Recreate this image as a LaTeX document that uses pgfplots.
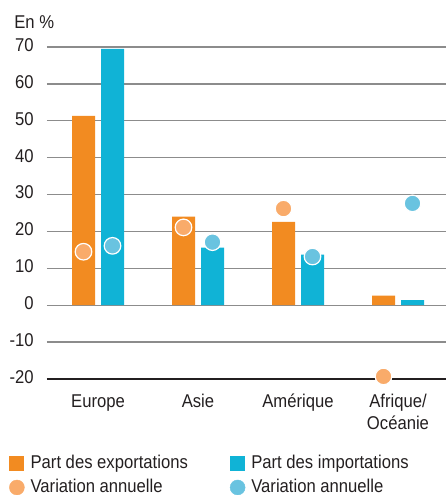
\documentclass[border=0pt]{standalone}
\usepackage{fontspec}
\setmainfont{Liberation Sans}[FakeStretch=0.9]
\usepackage{pgfplots}
\pgfplotsset{compat=1.18}
\definecolor{cexp}{HTML}{F28B21}
\definecolor{cimp}{HTML}{10B3D6}
\definecolor{dexp}{HTML}{F9AB6A}
\definecolor{dimp}{HTML}{69C3E0}
\definecolor{gridc}{HTML}{8C8C8C}
\definecolor{txt}{HTML}{231F20}
\begin{document}
\fontsize{18.5}{22}\selectfont
\begin{tikzpicture}
\path[use as bounding box] (-47pt,-116pt) rectangle (399pt,379pt);
\begin{axis}[
  at={(0,0)}, anchor=south west,
  scale only axis, width=399pt, height=332pt,
  xmin=-0.51, xmax=3.48, ymin=-20, ymax=70,
  ytick={-20,-10,...,70},
  xtick={0,1,2,3},
  xticklabels={Europe,Asie,Amérique,{Afrique/\\Océanie}},
  major tick length=0pt,
  axis line style={draw=none},
  ymajorgrids, grid style={gridc, line width=1.3pt},
  extra y ticks={-20}, extra y tick labels={},
  extra y tick style={grid style={txt, line width=1.3pt}},
  /pgf/number format/assume math mode=true,
  tick label style={font=\fontsize{18.5}{22}\selectfont, text=txt},
  yticklabel style={xshift=-7pt},
  xticklabel style={align=center, yshift=-7pt},
  typeset ticklabels with strut,
  clip=false,
  legend columns=2,
  legend cell align=left,
  legend style={at={(rel axis cs:0,0)}, anchor=north west, xshift=-38pt, yshift=-74pt,
    draw=none, fill=none, font=\fontsize{18.5}{22}\selectfont, text=txt,
    row sep=4pt, inner sep=0pt,
    nodes={inner ysep=2pt},
    /tikz/every odd column/.append style={column sep=4pt},
    /tikz/every even column/.append style={column sep=40pt}},
]
\addplot[ybar, bar width=23pt, bar shift=-14.5pt, fill=cexp, draw=none,
  legend image code/.code={\fill[cexp] (0pt,-7.5pt) rectangle (15pt,7.5pt);}]
  coordinates {(0,51.3) (1,24.0) (2,22.6) (3,2.6)};
\addlegendentry{Part des exportations}
\addplot[ybar, bar width=23pt, bar shift=14.5pt, fill=cimp, draw=none,
  legend image code/.code={\fill[cimp] (0pt,-7.5pt) rectangle (15pt,7.5pt);}]
  coordinates {(0,69.5) (1,15.6) (2,13.7) (3,1.4)};
\addlegendentry{Part des importations}
\addplot[only marks, mark=*, mark size=8.3pt, mark options={fill=dexp, draw=white, line width=1.2pt},
  legend image code/.code={\fill[dexp] (7.5pt,0pt) circle (7.5pt);}]
  coordinates {(-0.145,14.5) (0.855,21.1) (1.855,26.2) (2.855,-19.3)};
\addlegendentry{Variation annuelle}
\addplot[only marks, mark=*, mark size=8.3pt, mark options={fill=dimp, draw=white, line width=1.2pt},
  legend image code/.code={\fill[dimp] (7.5pt,0pt) circle (7.5pt);}]
  coordinates {(0.145,16.1) (1.145,17.1) (2.145,13.2) (3.145,27.6)};
\addlegendentry{Variation annuelle}
\node[anchor=base west, font=\fontsize{18.5}{22}\selectfont, text=txt] at (rel axis cs:0,1) [xshift=-39pt, yshift=19pt] {En \%};
\end{axis}
\end{tikzpicture}
\end{document}
